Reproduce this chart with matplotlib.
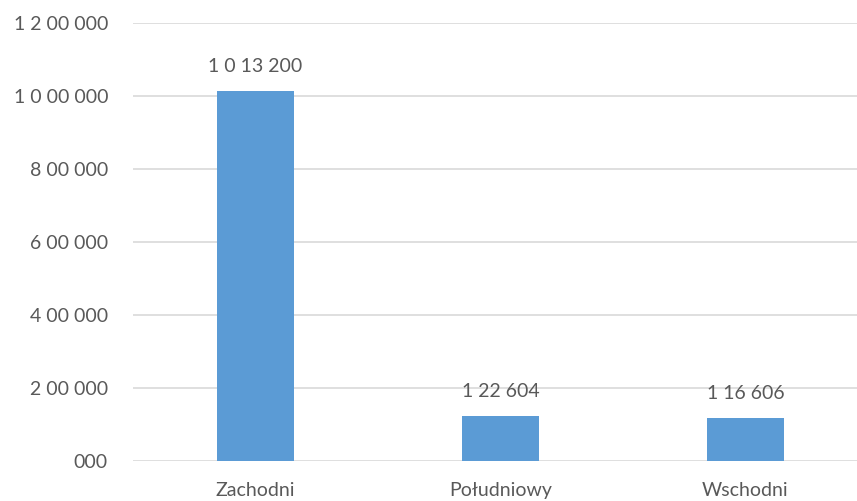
import matplotlib
matplotlib.use("Agg")
import matplotlib.pyplot as plt

categories = ["Zachodni", "Południowy", "Wschodni"]
values = [1013200, 122604, 116606]
value_labels = ["1 0 13 200", "1 22 604", "1 16 606"]
yticks = [0, 200000, 400000, 600000, 800000, 1000000, 1200000]
ytick_labels = ["000", "2 00 000", "4 00 000", "6 00 000", "8 00 000", "1 0 00 000", "1 2 00 000"]

plt.rcParams['font.family'] = ['Lato', 'DejaVu Sans']
text_color = "#595959"

fig = plt.figure(figsize=(8.57, 5.01), dpi=100)
ax = fig.add_axes([133/857, 40/501, 724/857, (461-23)/501])
x = list(range(len(categories)))
ax.bar(x, values, width=0.314, color="#5B9BD5", zorder=3)
ax.set_xlim(-0.5, -0.5 + 724/245)
ax.set_ylim(0, 1200000)
ax.set_yticks(yticks)
ax.set_yticklabels(ytick_labels)
ax.set_xticks(x)
ax.set_xticklabels(categories)
ax.grid(axis='y', color="#D9D9D9", linewidth=1.2, zorder=0)
for s in ax.spines.values():
    s.set_visible(False)
ax.tick_params(axis='both', length=0, labelsize=14, labelcolor=text_color)
ax.tick_params(axis='y', pad=18)
ax.tick_params(axis='x', pad=15)
for xi, v, lab in zip(x, values, value_labels):
    ax.annotate(lab, (xi, v), xytext=(0, 12), textcoords='offset points',
                ha='center', va='bottom', fontsize=14, color=text_color)
fig.savefig("out.png", dpi=100)
